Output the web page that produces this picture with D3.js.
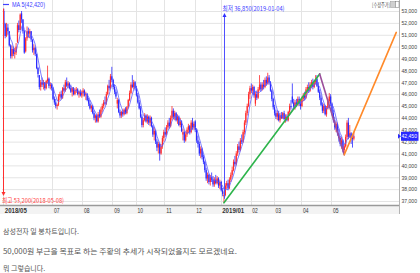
<!DOCTYPE html>
<html>
<head>
<meta charset="utf-8">
<script src="https://cdn.jsdelivr.net/npm/d3@7"></script>
<style>
  body { margin: 0; background: #fff; }
  svg { display: block; font-family: "Liberation Sans Narrow", "Liberation Sans", Arial, sans-serif; }
  .note { font-family: "Noto Sans CJK KR", sans-serif; font-size: 7px; fill: #555; }
</style>
</head>
<body>
<script>
// 일봉 [시가, 고가, 저가, 종가] (단위: 100원), 2018-05-08 ~ 2019-05
const candles = [
  [530,532,516,519],[519,520,507,509],[509,520,508,516],[516,519,510,513],[513,513,500,501],
  [501,502,490,492],[492,501,490,498],[498,500,492,494],[494,499,490,495],[495,503,493,500],
  [504,520,503,518],[518,522,512,514],[514,528,514,527],[528,530,520,523],[523,523,511,513],
  [513,514,494,495],[496,508,495,507],
  // 6월
  [507,517,505,513],[513,516,508,511],[511,515,507,513],[513,513,504,506],[506,506,495,497],
  [497,502,493,499],[499,500,492,494],[494,494,481,482],[482,483,474,477],[476,476,464,466],
  [466,472,463,470],[470,474,466,468],[468,472,464,470],[470,470,463,465],[465,472,464,471],
  [471,484,469,473],[473,474,465,467],[467,470,464,468],[468,469,463,465],
  // 7월
  [465,466,455,456],[456,458,451,453],[453,456,448,450],[450,452,447,451],[451,460,450,458],
  [458,462,455,460],[460,463,456,457],[457,466,456,465],[465,468,462,463],[463,472,462,470],
  [470,474,466,467],[467,471,465,469],[469,470,464,465],[465,468,461,462],[462,466,458,465],
  [465,466,459,460],[460,465,459,463],[463,466,461,464],[464,465,459,460],[460,463,457,462],
  [462,464,458,459],[459,463,457,461],
  // 8월
  [461,465,458,463],[463,464,458,459],[459,462,455,460],[460,461,454,455],[455,457,450,452],
  [452,455,447,448],[448,451,445,450],[450,451,443,444],[444,446,438,440],[440,443,436,442],
  [442,443,436,437],[437,445,436,443],[443,447,440,441],[441,449,440,447],[447,452,445,450],
  [450,455,448,453],[453,458,451,452],[452,462,451,460],[460,468,459,467],[467,472,463,465],
  [465,477,464,475],[475,483,470,472],
  // 9월
  [472,473,464,466],[466,468,460,462],[462,464,456,458],[452,457,448,455],[455,456,444,445],
  [445,447,440,442],[442,446,440,445],[445,447,441,443],[443,448,442,447],[447,449,443,444],
  [444,450,443,449],[449,456,448,455],[455,463,454,461],[461,470,460,468],[468,476,465,466],
  [466,472,464,470],[470,471,463,465],
  // 10월
  [465,467,458,459],[459,461,452,453],[453,455,447,448],[448,450,440,441],[441,443,432,434],
  [434,440,432,438],[438,444,437,442],[442,443,436,437],[437,443,435,441],[441,442,434,436],
  [436,442,433,440],[440,441,432,433],[433,434,424,426],[426,432,421,429],[429,430,418,420],
  [420,422,412,415],[415,420,410,418],[418,419,404,410],[410,418,409,416],[416,425,414,423],
  [423,430,420,428],
  // 11월
  [428,432,424,426],[426,434,425,432],[432,438,430,436],[436,440,431,433],[433,442,432,440],
  [440,450,438,446],[446,448,439,441],[441,446,438,444],[444,445,437,438],[438,443,435,441],
  [441,442,433,434],[434,440,432,437],[437,438,428,429],[426,431,421,428],[428,429,419,421],
  [421,428,420,426],[426,432,424,430],[430,435,427,433],[433,434,426,428],[428,438,427,436],
  [436,440,430,432],[432,437,430,435],
  // 12월
  [437,438,428,430],[430,431,419,421],[421,425,415,418],[418,420,408,410],[410,416,406,414],
  [414,415,405,407],[407,409,401,403],[403,404,394,396],[396,398,387,389],[389,394,385,392],
  [392,393,384,386],[386,392,383,390],[390,394,386,388],[388,391,382,384],[384,390,382,388],
  [388,392,384,385],[385,391,384,389],[389,390,381,383],[383,388,380,386],
  // 2019년 1월
  [386,387,378,379],[379,381,374,376],[374,378,368.5,375],[375,385,374,383],[383,387,380,385],
  [385,388,379,381],[381,390,380,388],[388,394,386,392],[392,399,390,396],[396,405,395,403],
  [403,408,399,401],[401,412,400,410],[410,418,408,416],[416,420,411,413],[413,423,412,421],
  [421,426,418,420],[420,430,419,428],[428,438,426,436],[436,446,434,444],[444,452,442,450],
  [450,462,449,460],[460,467,456,465],
  // 2월
  [465,469,461,463],[463,468,460,466],[466,467,457,459],[452,462,450,460],[460,463,455,457],
  [457,466,456,464],[464,476,463,468],[468,470,462,464],[464,470,463,468],[468,472,464,466],
  [466,474,465,472],[472,475,467,469],[469,478,468,474],[474,476,468,470],[470,471,462,463],
  [463,464,454,456],[456,457,447,449],
  // 3월
  [449,451,442,444],[444,447,439,441],[441,446,438,444],[444,446,437,438],[438,444,436,442],
  [442,445,439,440],[440,445,439,444],[444,446,438,439],[439,443,436,441],[441,443,437,438],
  [438,446,437,445],[445,452,443,450],[450,455,447,449],[458,469,452,453],[453,456,447,449],
  [449,455,447,453],[453,456,449,451],[451,458,450,456],[456,458,450,452],[452,455,447,450],
  // 4월
  [450,458,449,456],[456,461,454,459],[459,462,455,457],[457,466,456,464],[464,468,461,466],
  [466,470,461,463],[463,470,462,468],[468,472,465,470],[470,473,464,466],[466,472,465,470],
  [470,476,468,473],[473,476,466,467],[467,470,461,462],[462,464,455,457],[457,459,450,451],
  [451,453,444,446],[446,452,444,450],[450,451,442,443],[443,450,441,448],[448,456,447,454],
  [454,461,452,458],[458,460,450,452],
  // 5월
  [452,453,442,444],[444,447,436,438],[438,441,430,432],[432,437,428,435],[435,436,425,427],
  [427,431,420,423],[423,425,416,418],[418,424,414,421],[421,422,411,413],[413,418,409,416],
  [416,426,415,424],[424,438,422,436],[436,440,422,424],[424,434,423,427],[427,428,418,423],
  [423,426,415,422.5],[422.5,428,421,424.5]
];

// 월 구분 (캔들 인덱스)
const monthIdx = [0, 36, 58, 80, 97, 118, 140, 159, 181, 198, 218, 240];
const monthLabels = ["2018/05", "07", "08", "09", "10", "11", "12", "2019/01", "02", "03", "04", "05"];
const boldLabels = ["2018/05", "2019/01"];

const priceTicks = [53000, 52000, 51000, 50000, 49000, 48000, 47000, 46000, 45000,
                    44000, 43000, 42000, 41000, 40000, 39000, 38000, 37000];

// 추세선 (녹색, 보라, 주황)
const trendIdx = [161, 231, 249, 287];
const trendPrice = [36850, 47700, 40900, 51200];
const trendColors = ["#2db44b", "#9b4e9b", "#ff8a2a"];

const highIdx = 0, highPrice = 53200, highText = "최고 53,200(2018-05-08)";
const lowIdx = 161, lowPrice = 36850, lowText = "최저 36,850(2019-01-04)";

const notes = [
  "삼성전자 일 봉차트입니다.",
  "50,000원 부근을 목표로 하는 주황의 추세가 시작되었을지도 모르겠네요.",
  "뭐 그렇습니다."
];

const width = 420, height = 273;
const upColor = "#ff2a2a", downColor = "#2a2aff";
const narrow = "'Liberation Sans Narrow','Liberation Sans',Arial,sans-serif";

const svg = d3.select("body").append("svg")
    .attr("width", width)
    .attr("height", height);

const x = d3.scaleLinear().domain([0, 289]).range([3.8, 399]);
const y = d3.scaleLinear().domain([37000, 53000]).range([201, 11]);
const fmt = d3.format(",");

const data = candles.map((c, i) => ({
    i: i, o: c[0] * 100, h: c[1] * 100, l: c[2] * 100, c: c[3] * 100
}));

// 5일 이동평균
const ma = data.map((d, i) => i < 4 ? null : {
    i: i, v: d3.mean(data.slice(i - 4, i + 1), e => e.c)
}).filter(d => d);

// 그리드
svg.append("g")
    .attr("transform", "translate(399,0)")
    .call(d3.axisLeft(y).tickValues(priceTicks).tickSize(397).tickFormat(""))
    .call(g => g.select(".domain").remove())
    .call(g => g.selectAll("line").attr("stroke", "#e4e4e4"));

svg.append("g")
    .selectAll("line")
    .data(monthIdx)
    .join("line")
    .attr("x1", d => Math.round(x(d) - 0.7) + 0.5)
    .attr("x2", d => Math.round(x(d) - 0.7) + 0.5)
    .attr("y1", 0)
    .attr("y2", 205)
    .attr("stroke", "#e4e4e4");

// 테두리와 x축 영역
svg.append("rect")
    .attr("x", 0).attr("y", 206)
    .attr("width", 400).attr("height", 8)
    .attr("fill", "#f3f3f3");
svg.append("line")
    .attr("x1", 0).attr("x2", 400)
    .attr("y1", 205.5).attr("y2", 205.5)
    .attr("stroke", "#9a9a9a").attr("stroke-width", 1.5);
svg.append("line")
    .attr("x1", 399.5).attr("x2", 399.5)
    .attr("y1", 0).attr("y2", 214)
    .attr("stroke", "#b4b4b4");

// x축 라벨
const xAxis = svg.append("g")
    .attr("transform", "translate(0,205)")
    .call(d3.axisBottom(x).tickValues(monthIdx).tickSize(0).tickPadding(3)
        .tickFormat((d, k) => monthLabels[k]));
xAxis.select(".domain").remove();
xAxis.selectAll("text")
    .attr("text-anchor", "start")
    .attr("dx", 0.5)
    .attr("font-size", 6.5)
    .attr("font-family", narrow)
    .attr("fill", "#333")
    .each(function(d) {
        const lab = monthLabels[monthIdx.indexOf(d)];
        if (boldLabels.includes(lab)) {
            d3.select(this).attr("font-weight", "bold")
                .attr("textLength", 22).attr("lengthAdjust", "spacingAndGlyphs");
        } else {
            d3.select(this).attr("textLength", 5.5).attr("lengthAdjust", "spacingAndGlyphs");
        }
    });

// 캔들
const candleG = svg.append("g");
candleG.selectAll("line")
    .data(data)
    .join("line")
    .attr("x1", d => x(d.i))
    .attr("x2", d => x(d.i))
    .attr("y1", d => y(d.h))
    .attr("y2", d => y(d.l))
    .attr("stroke", d => d.c >= d.o ? upColor : downColor)
    .attr("stroke-width", 0.8);
candleG.selectAll("rect")
    .data(data)
    .join("rect")
    .attr("x", d => x(d.i) - 0.6)
    .attr("width", 1.2)
    .attr("y", d => y(Math.max(d.o, d.c)))
    .attr("height", d => Math.max(1, Math.abs(y(d.o) - y(d.c))))
    .attr("fill", d => d.c >= d.o ? upColor : downColor);

// 이동평균선
svg.append("path")
    .datum(ma)
    .attr("fill", "none")
    .attr("stroke", "#5a5aff")
    .attr("stroke-width", 0.8)
    .attr("d", d3.line().x(d => x(d.i)).y(d => y(d.v)));

// 추세선
trendColors.forEach((col, k) => {
    svg.append("line")
        .attr("x1", x(trendIdx[k])).attr("y1", y(trendPrice[k]))
        .attr("x2", x(trendIdx[k + 1])).attr("y2", y(trendPrice[k + 1]))
        .attr("stroke", col)
        .attr("stroke-width", 1.6)
        .attr("stroke-linecap", "round");
});

// 최고 표시
const hx = Math.round(x(highIdx)) - 0.5;
svg.append("line")
    .attr("x1", hx).attr("x2", hx)
    .attr("y1", y(highPrice)).attr("y2", 193)
    .attr("stroke", "#ff3030");
svg.append("path")
    .attr("d", `M${hx - 2},192 L${hx + 2},192 L${hx},196 Z`)
    .attr("fill", "#ff3030");
svg.append("text")
    .attr("x", 2).attr("y", 203)
    .attr("font-size", 6.5)
    .attr("font-family", "'Noto Sans CJK KR',sans-serif")
    .attr("textLength", 62).attr("lengthAdjust", "spacingAndGlyphs")
    .attr("fill", "#ff4040")
    .text(highText);

// 최저 표시
const lx = Math.round(x(lowIdx)) + 0.5;
svg.append("line")
    .attr("x1", lx).attr("x2", lx)
    .attr("y1", 14).attr("y2", y(lowPrice) - 4)
    .attr("stroke", "#5050ff");
svg.append("path")
    .attr("d", `M${lx - 2},17 L${lx + 2},17 L${lx},13 Z`)
    .attr("fill", "#3030ff");
svg.append("text")
    .attr("x", lx - 2).attr("y", 11)
    .attr("font-size", 6.5)
    .attr("font-family", "'Noto Sans CJK KR',sans-serif")
    .attr("textLength", 62).attr("lengthAdjust", "spacingAndGlyphs")
    .attr("fill", "#4040ff")
    .text(lowText);

// y축 라벨
const yAxis = svg.append("g")
    .attr("transform", "translate(399,0)")
    .call(d3.axisRight(y).tickValues(priceTicks).tickSize(0).tickPadding(2.5).tickFormat(fmt));
yAxis.select(".domain").remove();
yAxis.selectAll("text")
    .attr("font-size", 5.6)
    .attr("font-family", narrow)
    .attr("textLength", 15.5).attr("lengthAdjust", "spacingAndGlyphs")
    .attr("fill", "#444");

// 현재가
const last = data[data.length - 1];
const ly = y(last.c);
svg.append("path")
    .attr("d", `M398,${ly - 2.5} L401,${ly} L398,${ly + 2.5} Z`)
    .attr("fill", "#2a2aff");
svg.append("rect")
    .attr("x", 401).attr("y", ly - 4.5)
    .attr("width", 17.5).attr("height", 9)
    .attr("fill", "#2a2aff");
svg.append("text")
    .attr("x", 401.5).attr("y", ly + 2.1)
    .attr("font-size", 5.6)
    .attr("font-family", narrow)
    .attr("textLength", 15.5).attr("lengthAdjust", "spacingAndGlyphs")
    .attr("fill", "#fff")
    .text(fmt(last.c));

// 범례
const lastMa = Math.round(ma[ma.length - 1].v);
svg.append("line")
    .attr("x1", 3).attr("x2", 9)
    .attr("y1", 4.5).attr("y2", 4.5)
    .attr("stroke", "#4040ff").attr("stroke-width", 1.2);
svg.append("text")
    .attr("x", 12).attr("y", 7)
    .attr("font-size", 6.5)
    .attr("textLength", 33).attr("lengthAdjust", "spacingAndGlyphs")
    .attr("fill", "#4040ff")
    .text(`MA 5(${fmt(lastMa)})`);

// 수정주가
svg.append("text")
    .attr("x", 372).attr("y", 6.5)
    .attr("font-size", 5.5)
    .attr("font-family", "'Noto Sans CJK KR',sans-serif")
    .attr("textLength", 18).attr("lengthAdjust", "spacingAndGlyphs")
    .attr("fill", "#444")
    .text("[수정주가]");
svg.append("rect")
    .attr("x", 390.5).attr("y", 1.5).attr("width", 5).attr("height", 6)
    .attr("fill", "#d0d0d0").attr("stroke", "#999").attr("stroke-width", 0.5);
svg.append("rect")
    .attr("x", 395.5).attr("y", 1.5).attr("width", 3.5).attr("height", 6)
    .attr("fill", "#fff").attr("stroke", "#777").attr("stroke-width", 0.5);

// 본문
svg.selectAll("text.note")
    .data(notes)
    .join("text")
    .attr("class", "note")
    .attr("x", 3)
    .attr("y", (d, k) => [234, 254, 271][k])
    .each(function(d, k) {
        if (k === 1) d3.select(this).attr("textLength", 234).attr("lengthAdjust", "spacingAndGlyphs");
    })
    .text(d => d);
</script>
</body>
</html>
